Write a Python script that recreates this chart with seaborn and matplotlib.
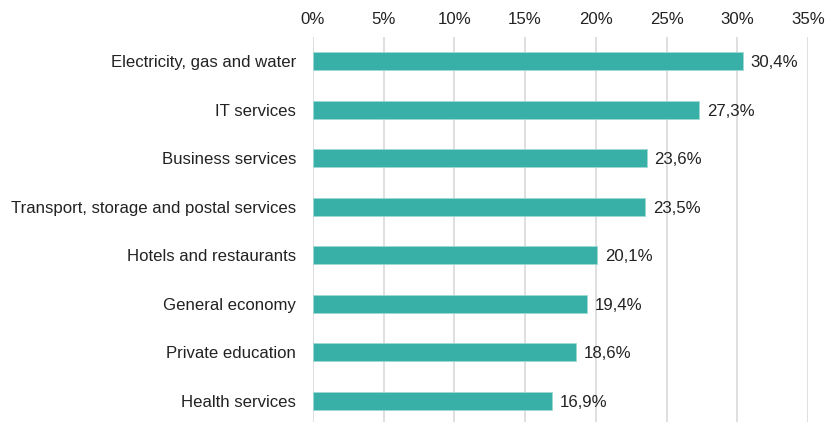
import matplotlib
matplotlib.use("Agg")
import matplotlib.pyplot as plt
import seaborn as sns
import pandas as pd
from matplotlib.ticker import FuncFormatter

sectors = [
    "Electricity, gas and water",
    "IT services",
    "Business services",
    "Transport, storage and postal services",
    "Hotels and restaurants",
    "General economy",
    "Private education",
    "Health services",
]
shares = [30.4, 27.3, 23.6, 23.5, 20.1, 19.4, 18.6, 16.9]
x_ticks = [0, 5, 10, 15, 20, 25, 30, 35]

df = pd.DataFrame({"sector": sectors, "share": shares})

sns.set_theme(style="white")
plt.rcParams["font.family"] = ["Liberation Sans", "DejaVu Sans"]

fig = plt.figure(figsize=(8.30, 4.22), dpi=100)
ax = fig.add_axes([0.377, -0.007, 0.5965, 0.919])

bar_color = "#38AFA7"
sns.barplot(data=df, x="share", y="sector", color=bar_color, width=0.37,
            saturation=1, edgecolor="#9ED9D4", linewidth=0.6, ax=ax, zorder=3)

fs = 12.1
ax.set_xlim(0, 35)
ax.set_xticks(x_ticks)
ax.xaxis.set_major_formatter(FuncFormatter(lambda v, _: f"{v:.0f}%"))
ax.xaxis.tick_top()
ax.tick_params(axis="x", length=0, pad=7, labelsize=fs, colors="#222222")
ax.tick_params(axis="y", length=0, pad=12, labelsize=fs, colors="#222222")
ax.set_xlabel("")
ax.set_ylabel("")
ax.grid(axis="x", color="#D9D9D9", linewidth=1.2, zorder=0)
for s in ax.spines.values():
    s.set_visible(False)

for i, v in enumerate(shares):
    ax.text(v + 0.55, i, f"{v:.1f}%".replace(".", ","), va="center_baseline",
            ha="left", fontsize=fs, color="#222222")

fig.savefig("out.png", dpi=100)
